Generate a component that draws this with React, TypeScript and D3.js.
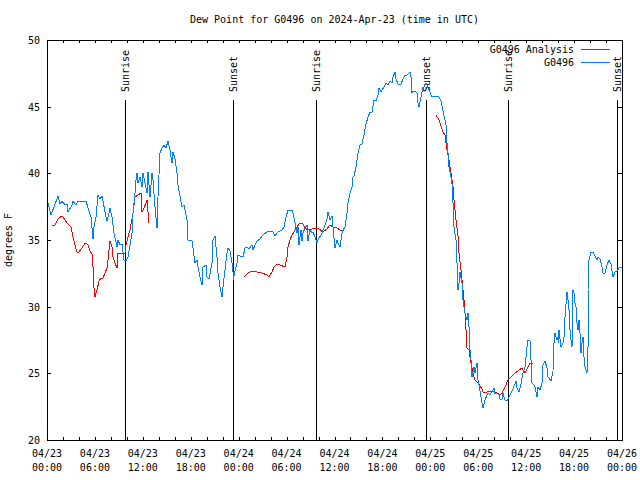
import React from "react";
import * as d3 from "d3";

// hours since 2024-04-23 00:00 UTC, dew point (°F)
const observed: [number, number][] = [
  [0.0, 37.9], [0.16, 37.8], [0.46, 36.9], [1.42, 38.3], [1.63, 37.7], [1.92, 37.95], [2.25, 37.6], [2.47, 37.7],
  [2.67, 37.1], [3.09, 37.6], [3.29, 37.9], [3.63, 37.6], [3.92, 37.9], [4.88, 37.9], [5.17, 37.4], [5.47, 36.75],
  [5.72, 35.1], [5.92, 36.0], [6.14, 36.75], [6.42, 38.4], [6.64, 38.1], [6.85, 38.3], [7.05, 37.95], [7.26, 37.1],
  [7.55, 36.4], [7.76, 37.0], [7.89, 37.4], [8.1, 36.75], [8.39, 35.5], [8.73, 34.5], [8.93, 35.0], [9.14, 34.6],
  [9.35, 34.7], [9.64, 33.5], [9.89, 33.4], [10.18, 33.75], [10.61, 35.5], [10.81, 37.0], [11.02, 38.5], [11.2, 39.5],
  [11.25, 40.0], [11.36, 39.25], [11.65, 39.75], [11.86, 39.0], [12.06, 40.0], [12.27, 39.25], [12.48, 38.5],
  [12.69, 40.1], [12.9, 38.25], [13.11, 40.0], [13.31, 39.5], [13.52, 37.5], [13.74, 35.9], [13.94, 38.25],
  [14.15, 41.5], [14.36, 41.9], [14.65, 42.1], [14.9, 41.9], [15.19, 42.4], [15.4, 41.75], [15.61, 40.75],
  [15.82, 41.6], [16.03, 41.1], [16.24, 40.0], [16.44, 39.1], [16.87, 37.5], [17.15, 37.6], [17.49, 36.5],
  [17.69, 35.0], [18.12, 34.9], [18.32, 34.4], [18.53, 33.25], [18.75, 33.5], [18.95, 33.0], [19.16, 32.25],
  [19.37, 31.6], [19.57, 33.0], [19.87, 33.1], [20.07, 32.25], [20.32, 32.1], [20.62, 33.25], [20.82, 35.0],
  [21.04, 35.3], [21.25, 33.75], [21.45, 32.5], [21.66, 31.5], [21.88, 30.75], [22.08, 31.5], [22.29, 32.75],
  [22.5, 34.0], [22.7, 34.4], [22.92, 34.2], [23.13, 33.25], [23.25, 32.6], [23.33, 32.0], [23.54, 32.7],
  [23.75, 33.25], [23.95, 33.9], [24.17, 33.8], [24.58, 33.7], [24.79, 34.4], [25.08, 34.5], [25.33, 34.3],
  [25.63, 34.6], [25.83, 34.25], [26.05, 34.6], [26.26, 34.9], [26.67, 35.1], [27.08, 35.4], [27.71, 35.7],
  [28.26, 35.6], [28.55, 35.3], [28.96, 35.6], [29.39, 35.75], [29.71, 36.0], [29.93, 36.75], [30.22, 37.25],
  [30.64, 37.25], [30.84, 37.0], [31.05, 36.25], [31.27, 35.5], [31.43, 36.0], [31.59, 34.6], [31.77, 35.75],
  [31.89, 34.9], [32.1, 35.5], [32.31, 35.9], [32.52, 36.1], [32.72, 34.9], [32.93, 35.75], [33.15, 35.5],
  [33.35, 35.6], [33.56, 35.25], [33.77, 34.75], [33.97, 35.0], [34.4, 35.5], [34.81, 36.1], [35.02, 36.6],
  [35.22, 37.1], [35.44, 36.5], [35.65, 36.8], [35.85, 36.0], [36.06, 34.4], [36.28, 35.0], [36.48, 34.75],
  [36.69, 34.5], [36.9, 35.5], [37.1, 35.75], [37.32, 36.0], [37.53, 37.0], [37.73, 37.75], [37.94, 38.5],
  [38.15, 39.0], [38.28, 39.75], [38.44, 39.8], [38.69, 40.5], [38.98, 41.5], [39.19, 42.1], [39.44, 42.2],
  [39.69, 42.9], [39.95, 43.7], [40.24, 44.2], [40.45, 44.6], [40.7, 44.6], [40.99, 45.5], [41.2, 45.4],
  [41.49, 45.9], [41.61, 46.4], [41.82, 46.1], [42.24, 46.5], [42.45, 46.75], [42.7, 46.6], [42.95, 46.9],
  [43.16, 46.8], [43.37, 47.25], [43.58, 47.6], [43.7, 47.1], [43.91, 46.7], [44.33, 46.7], [44.55, 47.1],
  [44.77, 47.4], [45.14, 47.4], [45.48, 47.6], [45.6, 47.2], [45.73, 46.0], [45.89, 46.2], [46.14, 46.2],
  [46.3, 46.0], [46.42, 45.25], [46.63, 45.0], [46.84, 45.7], [46.97, 46.1], [47.17, 46.5], [47.48, 46.75],
  [47.89, 46.25], [48.23, 45.75], [48.63, 45.8], [49.05, 45.75], [49.35, 45.4], [49.6, 44.7], [49.96, 43.6],
  [50.12, 42.3], [50.25, 41.5], [50.37, 40.5], [50.55, 39.75], [50.71, 39.2], [50.88, 37.75], [51.0, 36.0],
  [51.18, 35.0], [51.3, 33.25], [51.43, 31.25], [51.59, 31.8], [51.72, 32.6], [51.93, 31.8], [52.13, 30.5],
  [52.34, 29.5], [52.55, 29.0], [52.68, 29.5], [52.88, 28.5], [52.97, 26.75], [53.1, 26.0], [53.26, 24.75],
  [53.47, 25.5], [53.6, 25.0], [53.81, 25.75], [53.93, 24.5], [54.1, 24.1], [54.31, 23.25], [54.56, 22.4],
  [54.85, 23.0], [55.06, 23.4], [55.26, 23.5], [55.47, 23.4], [55.81, 23.75], [55.97, 23.9], [56.1, 23.45],
  [56.38, 23.5], [56.6, 23.4], [56.72, 23.05], [56.93, 23.1], [57.13, 23.5], [57.35, 23.0], [57.56, 22.9],
  [57.76, 23.05], [57.97, 23.4], [58.39, 23.8], [58.69, 24.4], [58.89, 23.9], [59.14, 23.6], [59.32, 24.2],
  [59.65, 25.0], [59.86, 25.5], [60.07, 27.0], [60.2, 27.5], [60.49, 27.4], [60.61, 26.0], [60.78, 24.25],
  [60.99, 24.1], [61.11, 24.0], [61.32, 23.25], [61.52, 24.0], [61.73, 23.75], [61.94, 24.25], [62.15, 25.6],
  [62.36, 25.9], [62.57, 25.4], [62.78, 24.75], [63.11, 24.4], [63.33, 25.2], [63.53, 27.25], [63.61, 28.0],
  [63.83, 27.5], [63.95, 27.75], [64.03, 27.25], [64.15, 28.25], [64.37, 27.0], [64.58, 27.25], [64.74, 27.75],
  [64.86, 29.25], [65.08, 31.1], [65.2, 30.5], [65.36, 29.75], [65.49, 28.25], [65.61, 27.5], [65.7, 27.0],
  [65.83, 31.25], [65.99, 31.0], [66.12, 30.25], [66.24, 30.0], [66.4, 28.75], [66.53, 28.25], [66.65, 29.0],
  [66.74, 28.0], [66.87, 26.5], [67.03, 27.25], [67.16, 27.75], [67.28, 26.25], [67.41, 25.5], [67.58, 25.0],
  [67.71, 27.0], [67.79, 31.25], [67.91, 33.5], [68.12, 34.1], [68.41, 34.1], [68.62, 33.8], [68.83, 33.5],
  [69.04, 33.75], [69.25, 33.6], [69.45, 33.0], [69.66, 32.5], [69.87, 32.5], [70.08, 33.1], [70.41, 33.5],
  [70.62, 33.2], [70.91, 32.25], [71.12, 32.6], [71.41, 32.7], [71.75, 33.0], [71.95, 33.0],
];

const analysis1: [number, number][] = [
  [0.59, 36.1], [1.0, 36.1], [1.42, 36.55], [1.84, 36.8], [2.04, 36.7], [2.47, 36.25], [3.01, 36.0], [3.29, 35.25],
  [3.51, 34.6], [3.72, 34.1], [4.04, 34.1], [4.35, 34.4], [4.76, 34.75], [4.97, 34.7], [5.17, 34.6], [5.38, 34.2],
  [5.63, 33.95], [5.72, 33.0], [5.89, 31.4], [5.97, 30.7], [6.22, 31.25], [6.55, 31.9], [6.76, 32.15], [7.05, 32.15],
  [7.26, 32.5], [7.48, 32.9], [7.68, 33.5], [7.89, 34.9], [8.1, 34.5], [8.3, 33.75], [8.51, 33.25], [8.73, 32.9],
  [8.93, 34.0], [9.35, 34.0], [9.77, 34.0], [9.89, 34.6], [10.18, 35.25], [10.39, 35.75], [10.73, 37.0],
  [11.02, 38.25], [11.43, 38.4], [11.73, 38.5], [11.86, 37.1], [12.15, 37.4], [12.4, 37.75], [12.56, 38.0],
  [12.81, 36.25],
];

const analysis2: [number, number][] = [
  [24.67, 32.25], [25.17, 32.5], [25.63, 32.7], [26.26, 32.6], [26.88, 32.55], [27.51, 32.4], [27.84, 32.25],
  [28.14, 32.6], [28.43, 33.0], [28.76, 33.2], [29.18, 33.1], [29.8, 32.95], [30.02, 33.75], [30.22, 34.5],
  [30.43, 35.0], [30.64, 35.4], [30.93, 35.6], [31.27, 36.0], [31.68, 36.3], [32.02, 36.2], [32.31, 35.9],
  [32.72, 35.75], [33.15, 35.8], [33.56, 35.9], [34.1, 35.8], [34.6, 35.6], [35.02, 35.8], [35.44, 36.1],
  [35.85, 36.0], [36.28, 35.9], [36.69, 35.75], [37.19, 35.7],
];

const analysis3: [number, number][] = [
  [48.71, 44.4], [49.05, 44.0], [49.42, 43.3], [49.62, 43.1], [49.84, 42.9], [50.05, 41.75], [50.37, 41.0],
  [50.55, 40.0], [50.8, 39.0], [50.97, 38.0], [51.22, 36.5], [51.43, 35.3], [51.63, 34.0], [51.81, 32.75],
  [52.01, 32.0], [52.22, 30.5], [52.34, 29.5], [52.47, 28.25], [52.63, 26.9], [52.88, 26.75], [53.05, 25.75],
  [53.36, 25.0], [53.57, 24.5], [53.99, 24.25], [54.41, 23.8], [54.62, 23.6], [55.04, 23.6], [55.45, 23.65],
  [55.87, 23.65], [56.37, 23.5], [56.72, 23.4], [56.93, 23.5], [57.35, 23.95], [57.76, 24.5], [58.18, 24.8],
  [58.6, 25.0], [59.01, 25.2], [59.43, 25.4], [59.85, 25.0], [60.14, 25.3], [60.49, 25.75], [60.91, 25.8],
];

const sunEvents: [string, number][] = [
  ["Sunrise", 9.8], ["Sunset", 23.33], ["Sunrise", 33.68],
  ["Sunset", 47.4], ["Sunrise", 57.76], ["Sunset", 71.41],
];

const yTicks = [20, 25, 30, 35, 40, 45, 50];
const seriesNames = ["G0496 Analysis", "G0496"];
const seriesColors = ["#ff0000", "#0080ff"];
const title = "Dew Point for G0496 on 2024-Apr-23 (time in UTC)";
const yLabel = "degrees F";

const base = Date.UTC(2024, 3, 23, 0, 0);
const toDate = (h: number) => new Date(base + h * 3600000);

export default function App() {
  const W = 640, H = 480;
  const L = 47, R = 622, T = 40, B = 440;
  const x = d3.scaleUtc().domain([toDate(0), toDate(72)]).range([L, R]);
  const y = d3.scaleLinear().domain([20, 50]).range([B, T]);
  const line = d3.line<[number, number]>().x(d => Math.round(x(toDate(d[0])))).y(d => Math.round(y(d[1])));
  const majorTicks = x.ticks(d3.utcHour.every(6)!);
  const minorTicks = x.ticks(d3.utcHour.every(2)!);
  const fmtD = d3.utcFormat("%m/%d");
  const fmtT = d3.utcFormat("%H:%M");
  const font = "'DejaVu Sans Mono', monospace";
  const px = (v: number) => Math.round(v) + 0.5;

  return (
    <svg width={W} height={H} style={{ position: "absolute", left: 0, top: 0, background: "#fff" }}
      fontFamily={font} fontSize={10}>
      <rect x={0} y={0} width={W} height={H} fill="#fff" />
      <text x={(L + R) / 2} y={23} textAnchor="middle">{title}</text>
      <text transform={`translate(12,${(T + B) / 2}) rotate(-90)`} textAnchor="middle">{yLabel}</text>
      {/* y ticks */}
      {yTicks.map(t => (
        <g key={"y" + t} shapeRendering="crispEdges">
          <line x1={L} x2={L + 4} y1={px(y(t))} y2={px(y(t))} stroke="#000" />
          <line x1={R - 4} x2={R} y1={px(y(t))} y2={px(y(t))} stroke="#000" />
          <text x={L - 7} y={y(t) + 4} textAnchor="end">{t}</text>
        </g>
      ))}
      {minorTicks.map((t, i) => (
        <g key={"m" + i} shapeRendering="crispEdges">
          <line x1={px(x(t))} x2={px(x(t))} y1={B} y2={B - 3} stroke="#000" />
          <line x1={px(x(t))} x2={px(x(t))} y1={T} y2={T + 3} stroke="#000" />
        </g>
      ))}
      {majorTicks.map((t, i) => (
        <g key={"x" + i}>
          <text x={x(t)} y={B + 17} textAnchor="middle">{fmtD(t)}</text>
          <text x={x(t)} y={B + 31} textAnchor="middle">{fmtT(t)}</text>
        </g>
      ))}
      {/* sun events */}
      {sunEvents.map(([name, h], i) => (
        <g key={"s" + i}>
          <line x1={px(x(toDate(h)))} x2={px(x(toDate(h)))} y1={100} y2={B} stroke="#000" shapeRendering="crispEdges" />
          <text transform={`translate(${x(toDate(h)) + 4},92) rotate(-90)`} textAnchor="start">{name}</text>
        </g>
      ))}
      {/* series */}
      <g fill="none" strokeWidth={1} shapeRendering="crispEdges">
        {[analysis1, analysis2, analysis3].map((s, i) => (
          <path key={"a" + i} d={line(s) || ""} stroke={seriesColors[0]} />
        ))}
        <path d={line(observed) || ""} stroke={seriesColors[1]} />
      </g>
      {/* legend */}
      {seriesNames.map((n, i) => (
        <g key={"l" + i}>
          <text x={574} y={53 + i * 13} textAnchor="end">{n}</text>
          <line x1={581} x2={610} y1={49.5 + i * 13} y2={49.5 + i * 13} stroke={seriesColors[i]} shapeRendering="crispEdges" />
        </g>
      ))}
      <rect x={L + 0.5} y={T + 0.5} width={R - L} height={B - T} fill="none" stroke="#000" shapeRendering="crispEdges" />
    </svg>
  );
}
